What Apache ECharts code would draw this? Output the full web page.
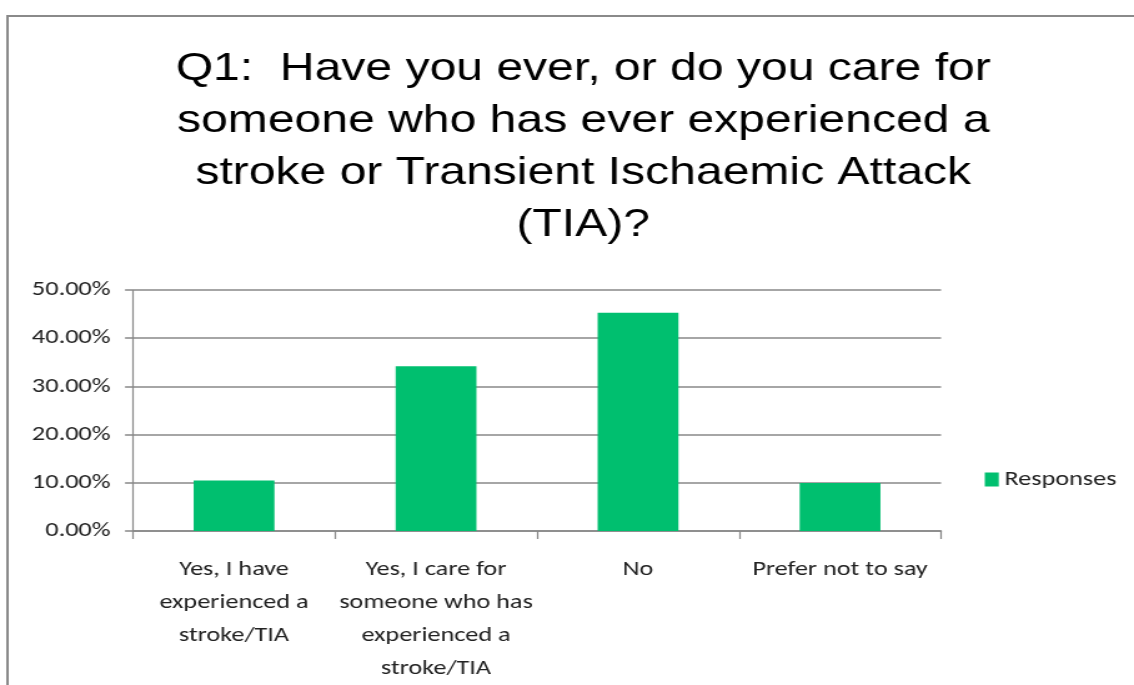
<!DOCTYPE html>
<html>
<head>
<meta charset="utf-8">
<style>
  html, body { margin: 0; padding: 0; background: #fff; overflow: hidden; }
  /* the chart is laid out on a narrower canvas and widened to the page */
  #chart { width: 908px; height: 685px; transform-origin: 0 0; transform: scaleX(1.2489); }
</style>
<script src="https://cdn.jsdelivr.net/npm/echarts@6/dist/echarts.min.js"></script>
</head>
<body>
<div id="chart"></div>
<script>
// Survey question Q1: share of responses per answer
const titleText = 'Q1:  Have you ever, or do you care for\nsomeone who has ever experienced a\nstroke or Transient Ischaemic Attack\n(TIA)?';
const categories = [
  'Yes, I have\nexperienced a\nstroke/TIA',
  'Yes, I care for\nsomeone who has\nexperienced a\nstroke/TIA',
  'No',
  'Prefer not to say'
];
const seriesName = 'Responses';
const responses = [10.5, 34.2, 45.3, 9.95];   // percent
const yTicks = { min: 0, max: 50, interval: 10 };

const labelFont = 'Carlito, Calibri, Lato, sans-serif';
const axisGray = '#888888';
const green = '#00BF6F';

const chart = echarts.init(document.getElementById('chart'), null, { renderer: 'canvas', width: 908, height: 685 });
chart.setOption({
  animation: false,
  backgroundColor: '#ffffff',
  graphic: [{
    type: 'rect',
    left: 3.5, top: 13.5,
    shape: { width: 1000, height: 720 },
    style: { fill: 'none', stroke: '#8a8a8a', lineWidth: 2 },
    silent: true
  }],
  title: {
    text: titleText,
    left: 462,
    textAlign: 'center',
    top: 38,
    textStyle: {
      fontFamily: '"Liberation Sans", Arial, sans-serif',
      fontSize: 38.5,
      fontWeight: 'normal',
      color: '#000',
      lineHeight: 52
    }
  },
  legend: {
    data: [seriesName],
    left: 783.5,
    top: 464,
    icon: 'rect',
    itemWidth: 11.2,
    itemHeight: 14,
    itemGap: 6,
    textStyle: { fontFamily: labelFont, fontSize: 21, color: '#222', padding: [0, 0, 0, -0.5] }
  },
  grid: { left: 106.5, right: 154.5, top: 290, bottom: 153, containLabel: false },
  xAxis: {
    type: 'category',
    data: categories,
    axisLine: { show: true, lineStyle: { color: axisGray, width: 1.5 } },
    axisTick: { show: true, alignWithLabel: false, length: 8, lineStyle: { color: axisGray, width: 1.2 } },
    axisLabel: {
      interval: 0,
      margin: 22,
      fontFamily: labelFont,
      fontSize: 21,
      lineHeight: 33,
      color: '#222',
      align: 'center'
    }
  },
  yAxis: {
    type: 'value',
    min: yTicks.min,
    max: yTicks.max,
    interval: yTicks.interval,
    axisLine: { show: true, lineStyle: { color: axisGray, width: 1.2 } },
    axisTick: { show: true, inside: false, length: 6.4, lineStyle: { color: axisGray, width: 1.5 } },
    splitLine: { show: true, lineStyle: { color: axisGray, width: 1.5 } },
    axisLabel: {
      margin: 18,
      fontFamily: labelFont,
      fontSize: 21,
      color: '#222',
      formatter: v => v.toFixed(2) + '%'
    }
  },
  series: [{
    name: seriesName,
    type: 'bar',
    data: responses,
    barWidth: '40%',
    itemStyle: { color: green }
  }]
});
</script>
</body>
</html>
